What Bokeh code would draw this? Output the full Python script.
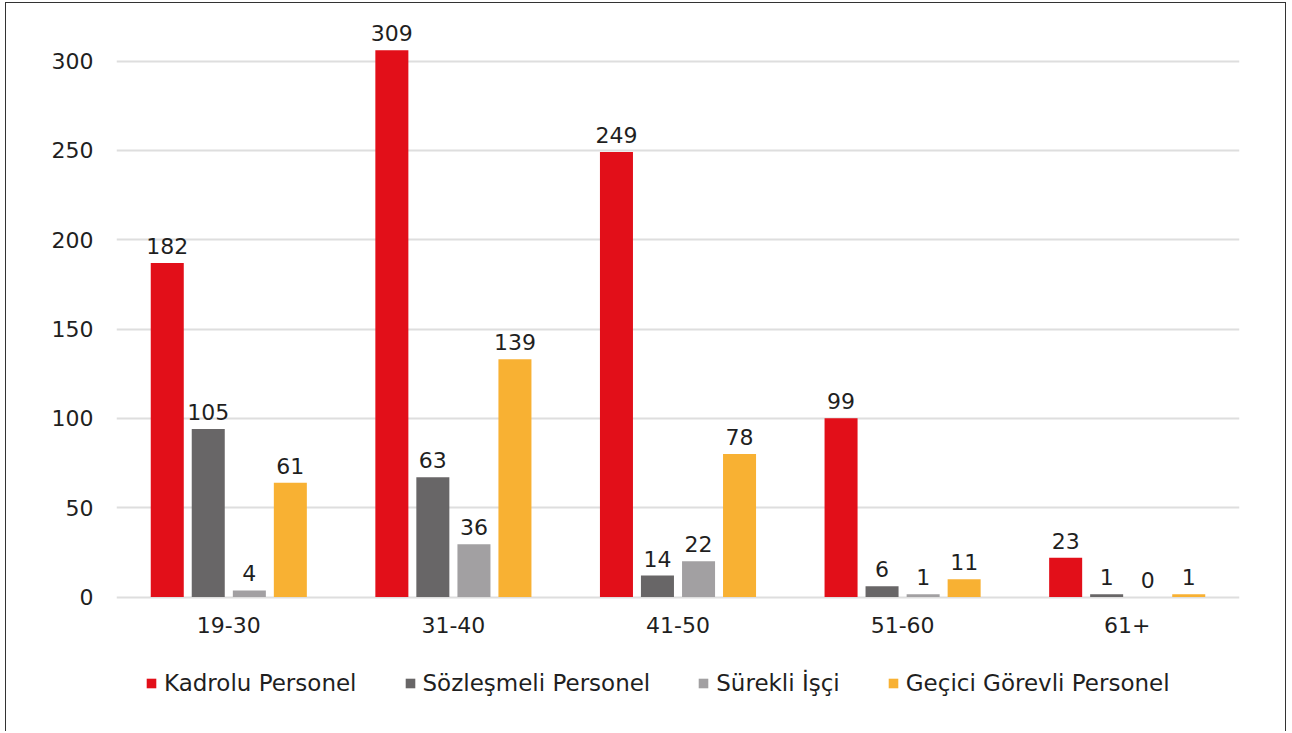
from bokeh.plotting import figure
from bokeh.models import ColumnDataSource, FactorRange, FixedTicker, Legend, LegendItem, Range1d
from bokeh.transform import dodge
from bokeh.core.properties import value
from bokeh.embed import file_html
from bokeh.resources import INLINE

# ---- data ----
age_groups = ["19-30", "31-40", "41-50", "51-60", "61+"]
series_names = ["Kadrolu Personel", "Sözleşmeli Personel", "Sürekli İşçi", "Geçici Görevli Personel"]
# values printed on the bars
kadrolu_lbl = [182, 309, 249, 99, 23]
sozlesmeli_lbl = [105, 63, 14, 6, 1]
surekli_lbl = [4, 36, 22, 1, 0]
gecici_lbl = [61, 139, 78, 11, 1]
# bar heights as drawn in the picture
kadrolu_h = [187, 306, 249, 100, 22]
sozlesmeli_h = [94, 67, 12, 6, 1.5]
surekli_h = [3.7, 29.5, 20, 1.5, 0]
gecici_h = [64, 133, 80, 10, 1.5]
y_ticks = [0, 50, 100, 150, 200, 250, 300]

colors = ["#E20F19", "#686667", "#A2A0A2", "#F8B133"]
FONT = "DejaVu Sans"
FS = "22px"
TXT = "#1f1f1f"

src = ColumnDataSource(dict(
    age=age_groups, zero=[0] * len(age_groups),
    k_h=kadrolu_h, s_h=sozlesmeli_h, u_h=surekli_h, g_h=gecici_h,
    k_l=[str(v) for v in kadrolu_lbl], s_l=[str(v) for v in sozlesmeli_lbl],
    u_l=[str(v) for v in surekli_lbl], g_l=[str(v) for v in gecici_lbl],
))

# layout (pixels)
W, H = 1281, 729
origin_y = 3.5          # figure content top on the page
top_b, bot_b = 9, 5
zero_page = 597         # page y of value 0
px_per_unit = 536 / 300
frame_top = origin_y + top_b
frame_bot = origin_y + H - bot_b
y_end = (zero_page - frame_top) / px_per_unit
y_start = -(frame_bot - zero_page) / px_per_unit

p = figure(width=W, height=H, output_backend="svg", toolbar_location=None,
           x_range=FactorRange(*age_groups, range_padding=0, factor_padding=0),
           y_range=Range1d(y_start, y_end),
           min_border_left=110, min_border_right=48, min_border_top=top_b, min_border_bottom=bot_b)
p.styles = {"margin-left": "5px", "margin-top": "2px",
            "border-top": "1.5px solid #333333", "border-left": "1.5px solid #333333",
            "border-right": "1.5px solid #333333"}
p.outline_line_color = None
p.background_fill_color = "white"
p.border_fill_color = "white"

p.xaxis.visible = False
p.xgrid.grid_line_color = None
p.ygrid.grid_line_color = "#DEDEDE"
p.ygrid.grid_line_width = 2
p.yaxis.ticker = FixedTicker(ticks=y_ticks)
p.yaxis.axis_line_color = None
p.yaxis.major_tick_line_color = None
p.yaxis.minor_tick_line_color = None
p.yaxis.major_label_text_font = FONT
p.yaxis.major_label_text_font_size = FS
p.yaxis.major_label_text_color = TXT
p.yaxis.major_label_standoff = 17

# category labels under the baseline
p.text(x="age", y="zero", text="age", source=src, text_align="center", text_baseline="middle",
       y_offset=28, text_font=value(FONT), text_font_size=FS, text_color=TXT)

offsets = [-0.274, -0.0915, 0.0915, 0.274]
hcols = ["k_h", "s_h", "u_h", "g_h"]
lcols = ["k_l", "s_l", "u_l", "g_l"]
items = []
for off, hc, lc, col, name in zip(offsets, hcols, lcols, colors, series_names):
    r = p.vbar(x=dodge("age", off, range=p.x_range), top=hc, width=0.147, source=src,
               fill_color=col, line_color=None)
    p.text(x=dodge("age", off, range=p.x_range), y=hc, text=lc, source=src,
           text_align="center", text_baseline="bottom", y_offset=-9,
           text_font=value(FONT), text_font_size=FS, text_color=TXT)
    items.append(LegendItem(label=name, renderers=[r]))

legend = Legend(items=items, orientation="horizontal", location=(29, 31),
                glyph_width=12, glyph_height=12, label_standoff=7, spacing=47,
                label_text_font=FONT, label_text_font_size="23px", label_text_color=TXT,
                border_line_color=None, background_fill_alpha=0, margin=0, padding=0)
p.add_layout(legend)

open("out.html", "w").write(file_html(p, INLINE))
